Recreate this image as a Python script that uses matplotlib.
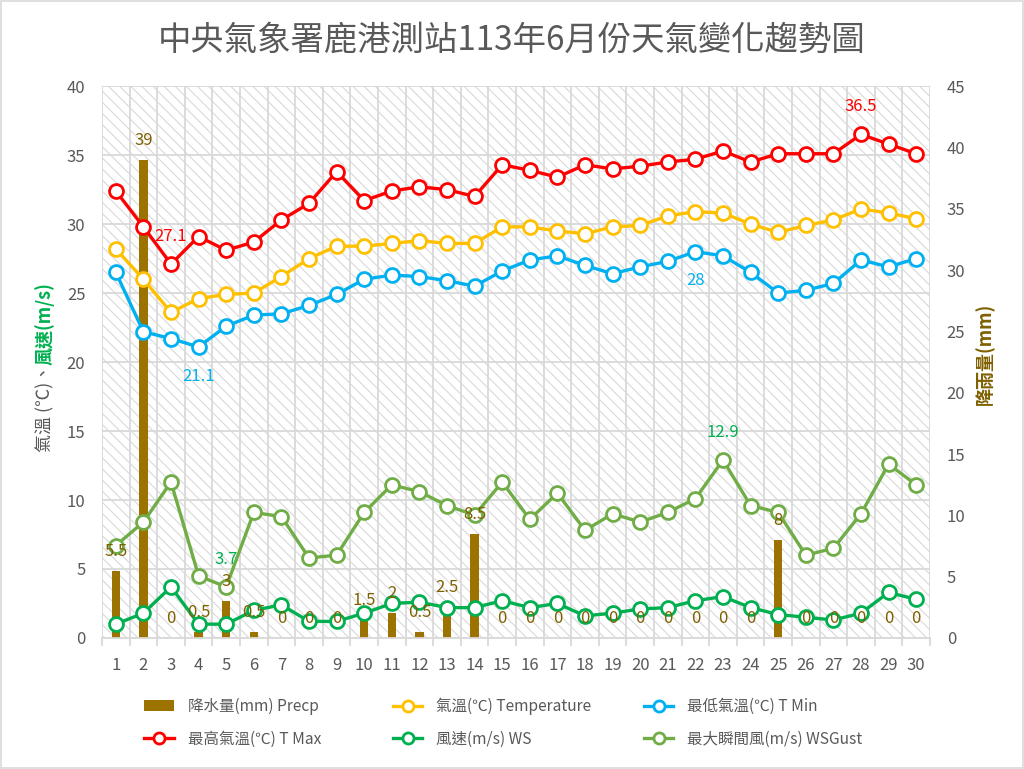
import matplotlib
matplotlib.use("Agg")
import matplotlib.pyplot as plt
from matplotlib.patches import Rectangle
from matplotlib.lines import Line2D

plt.rcParams['font.family'] = ['Noto Sans CJK TC', 'DejaVu Sans']
plt.rcParams['hatch.color'] = '#d9d9d9'
plt.rcParams['hatch.linewidth'] = 0.8

days = list(range(1, 31))
precip = [5.5, 39, 0, 0.5, 3, 0.5, 0, 0, 0, 1.5, 2, 0.5, 2.5, 8.5, 0,
          0, 0, 0, 0, 0, 0, 0, 0, 0, 8, 0, 0, 0, 0, 0]
temp = [28.2, 26.0, 23.6, 24.6, 24.9, 25.0, 26.2, 27.5, 28.4, 28.4, 28.6, 28.8, 28.6, 28.6, 29.8,
        29.8, 29.5, 29.3, 29.8, 29.9, 30.6, 30.9, 30.8, 30.0, 29.4, 29.9, 30.3, 31.1, 30.8, 30.4]
tmin = [26.5, 22.2, 21.7, 21.1, 22.6, 23.4, 23.5, 24.1, 24.9, 26.0, 26.3, 26.2, 25.9, 25.5, 26.6,
        27.4, 27.7, 27.0, 26.4, 26.9, 27.3, 28.0, 27.7, 26.5, 25.0, 25.2, 25.7, 27.4, 26.9, 27.5]
tmax = [32.4, 29.8, 27.1, 29.1, 28.1, 28.7, 30.3, 31.5, 33.8, 31.7, 32.4, 32.7, 32.5, 32.0, 34.3,
        33.9, 33.4, 34.3, 34.0, 34.2, 34.5, 34.7, 35.3, 34.5, 35.1, 35.1, 35.1, 36.5, 35.8, 35.1]
ws = [1.0, 1.8, 3.7, 1.0, 1.0, 2.0, 2.4, 1.2, 1.2, 1.8, 2.5, 2.6, 2.2, 2.2, 2.7,
      2.2, 2.5, 1.6, 1.8, 2.1, 2.2, 2.7, 3.0, 2.2, 1.7, 1.5, 1.3, 1.8, 3.3, 2.8]
gust = [6.7, 8.4, 11.3, 4.5, 3.7, 9.1, 8.8, 5.8, 6.0, 9.1, 11.1, 10.6, 9.6, 8.9, 11.3,
        8.6, 10.5, 7.8, 9.0, 8.4, 9.1, 10.1, 12.9, 9.6, 9.1, 6.0, 6.5, 9.0, 12.6, 11.1]

grey = '#595959'
grid_c = '#d9d9d9'
bar_c = '#9c7200'
lab_c = '#7f6000'

fig = plt.figure(figsize=(10.24, 7.69), dpi=100)
fig.patches.append(Rectangle((0.001, 0.001), 0.998, 0.998, transform=fig.transFigure,
                             facecolor='none', edgecolor=grid_c, lw=1.2))

ax2 = fig.add_axes([0.0996, 0.1704, 0.8086, 0.7176])
ax = ax2.twinx()
ax.set_zorder(ax2.get_zorder() + 1)
ax.patch.set_visible(False)

# hatched background + grid on the lower axes
ax2.add_patch(Rectangle((0, 0), 1, 1, transform=ax2.transAxes, facecolor='white',
                        edgecolor=grid_c, hatch='\\\\\\', lw=0, zorder=0))
for v in range(0, 45, 5):
    ax2.axhline(v * 45 / 40, color=grid_c, lw=1.3, zorder=0.5)
ax2.set_xticks([d + 0.5 for d in range(0, 31)], minor=True)
ax2.grid(which='minor', axis='x', color=grid_c, lw=1.3, zorder=0.5)

ax2.bar(days, precip, width=0.3, color=bar_c, zorder=2)

ax2.set_xlim(0.5, 30.5)
ax2.set_ylim(0, 45)
ax2.set_yticks(range(0, 50, 5))
ax2.set_xticks(days)
ax2.set_xticklabels([str(d) for d in days])
ax2.yaxis.tick_right()
ax2.yaxis.set_label_position('right')
ax.yaxis.tick_left()
ax.yaxis.set_label_position('left')

ax.set_ylim(0, 40)
ax.set_yticks(range(0, 45, 5))

series = [
    (tmax, '#ff0000'),
    (temp, '#ffc000'),
    (tmin, '#00b0f0'),
    (gust, '#70ad47'),
    (ws, '#00b050'),
]
for vals, c in series:
    ax.plot(days, vals, color=c, lw=2.4, marker='o', ms=10, mfc='white',
            mec=c, mew=2, zorder=3)

# rain labels sit on top of the lines
for d, p in zip(days, precip):
    ax.annotate(f'{p:g}', (d, p), xycoords=ax2.transData, xytext=(0, 14),
                textcoords='offset points', ha='center', va='center',
                fontsize=12, color=lab_c, zorder=5)

def tag(day, val, color, up=True):
    ax.annotate(f'{val:g}', (day, val), xytext=(0, 20 if up else -21),
                textcoords='offset points', ha='center', va='center',
                fontsize=12, color=color, zorder=5)

tag(28, 36.5, '#ff0000')
tag(3, 27.1, '#ff0000')
tag(22, 28, '#00b0f0', up=False)
tag(4, 21.1, '#00b0f0', up=False)
tag(23, 12.9, '#00b050')
tag(5, 3.7, '#00b050')

for a in (ax, ax2):
    for s in a.spines.values():
        s.set_visible(False)
    a.tick_params(axis='y', length=0, labelsize=12, labelcolor=grey, pad=12)
ax2.spines['bottom'].set_visible(True)
ax2.spines['bottom'].set_color(grid_c)
ax2.spines['bottom'].set_linewidth(1.3)
ax2.tick_params(axis='x', which='major', length=0, labelsize=12, labelcolor=grey, pad=14)
ax2.tick_params(axis='x', which='minor', length=6, color=grid_c, width=1.3)

fig.text(0.5, 0.948, '中央氣象署鹿港測站113年6月份天氣變化趨勢圖', ha='center', va='center',
         fontsize=24, color=grey)
fig.text(0.044, 0.412, '氣溫 (℃)、', rotation=90, ha='center', va='bottom',
         fontsize=13, color=grey)
fig.text(0.044, 0.526, '風速(m/s)', rotation=90, ha='center', va='bottom',
         fontsize=13, color='#00b050', fontweight='bold')
fig.text(0.962, 0.54, '降雨量(mm)', rotation=90, ha='center', va='center',
         fontsize=13, color=lab_c, fontweight='bold')

# legend: three equal-width columns like the original
def lh(c):
    return Line2D([], [], color=c, lw=2.4, marker='o', ms=8, mfc='white', mec=c, mew=2)

leg_cols = [
    ([Rectangle((0, 0), 1, 1, facecolor=bar_c), lh('#ff0000')],
     ['降水量(mm) Precp', '最高氣溫(℃) T Max'], 0.127),
    ([lh('#ffc000'), lh('#00b050')],
     ['氣溫(℃) Temperature', '風速(m/s) WS'], 0.370),
    ([lh('#00b0f0'), lh('#70ad47')],
     ['最低氣溫(℃) T Min', '最大瞬間風(m/s) WSGust'], 0.615),
]
for hs, ls, x0 in leg_cols:
    fig.legend(hs, ls, loc='center left', bbox_to_anchor=(x0, 0.06),
               frameon=False, fontsize=11.2, labelcolor=grey,
               handlelength=1.9, handletextpad=0.9, labelspacing=1.0)

fig.savefig('out.png', dpi=100)
